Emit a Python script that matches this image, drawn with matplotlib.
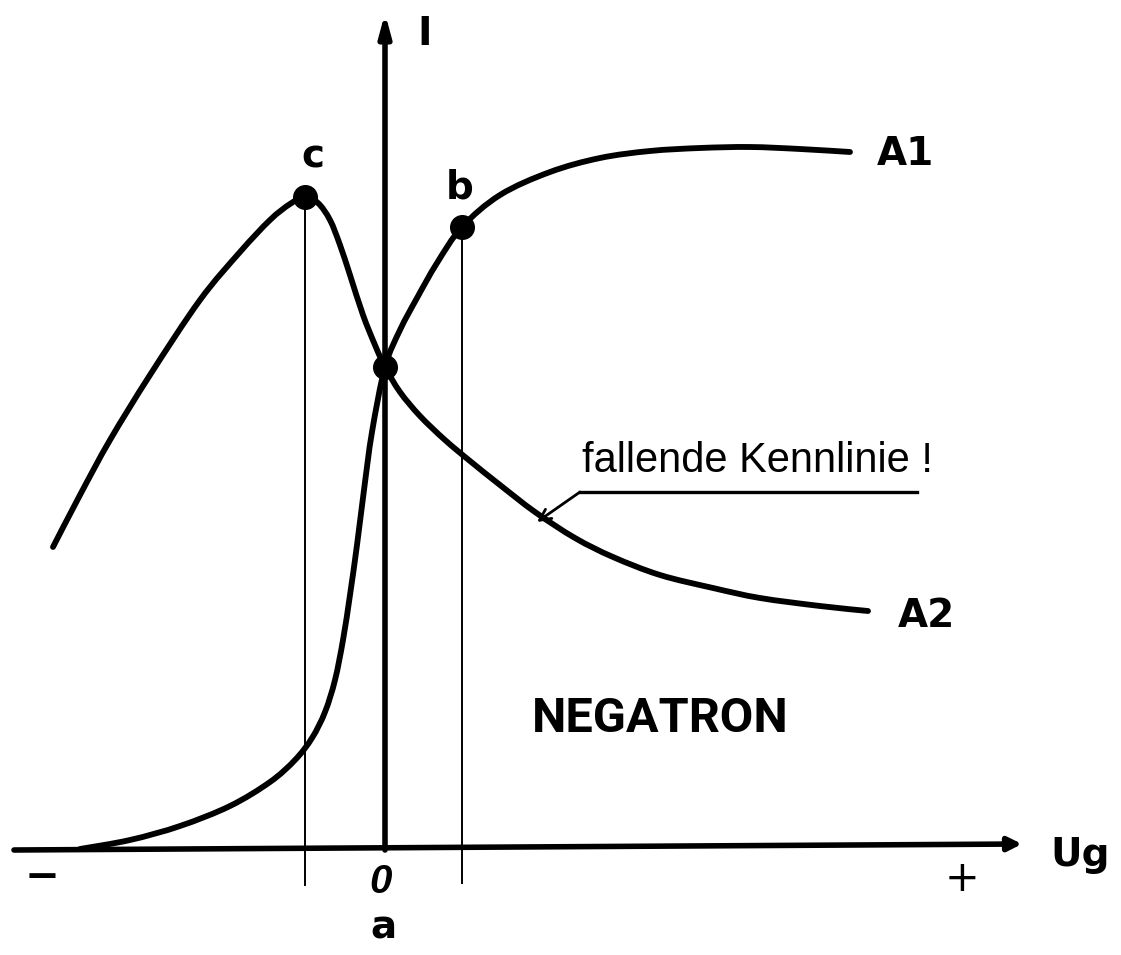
import numpy as np
import matplotlib
matplotlib.use("Agg")
import matplotlib.pyplot as plt
from matplotlib.path import Path
from matplotlib.patches import PathPatch

# curve A1 (rising characteristic), Ug / I in arbitrary units
a1_ug = [-3.05, -2.55, -2.05, -1.55, -1.15, -0.90, -0.73, -0.60, -0.50, -0.42, -0.35,
         -0.28, -0.21, -0.13, 0.00, 0.15, 0.32, 0.52, 0.77, 1.15, 1.65, 2.15, 2.65,
         3.15, 3.65, 4.15, 4.65]
a1_i = [0.01, 0.10, 0.24, 0.44, 0.68, 0.90, 1.12, 1.38, 1.70, 2.10, 2.55,
        3.05, 3.60, 4.18, 4.83, 5.20, 5.52, 5.87, 6.23, 6.55, 6.78, 6.92, 6.99,
        7.02, 7.03, 7.01, 6.98]

# curve A2 (peak at c, then falling characteristic)
a2_ug = [-3.32, -3.05, -2.75, -2.35, -1.85, -1.45, -1.15, -0.95, -0.80, -0.67, -0.55,
         -0.45, -0.35, -0.22, -0.10, 0.00, 0.15, 0.35, 0.60, 0.85, 1.15, 1.50, 1.90,
         2.28, 2.75, 3.28, 3.75, 4.35, 4.83]
a2_i = [3.03, 3.55, 4.10, 4.75, 5.50, 5.98, 6.30, 6.46, 6.53, 6.47, 6.30,
        6.05, 5.75, 5.35, 5.05, 4.83, 4.58, 4.34, 4.10, 3.89, 3.65, 3.38, 3.12,
        2.93, 2.75, 2.62, 2.52, 2.44, 2.39]

# marked points a (crossing), b, c
pt_names = ["a", "b", "c"]
pt_ug = [0.00, 0.77, -0.80]
pt_i = [4.83, 6.23, 6.53]


def smooth_path(xs, ys):
    # bezier path passing through every read point (catmull-rom tangents)
    p = np.column_stack([xs, ys])
    verts = [p[0]]
    codes = [Path.MOVETO]
    n = len(p)
    for k in range(n - 1):
        p0 = p[k - 1] if k > 0 else p[k]
        p3 = p[k + 2] if k + 2 < n else p[k + 1]
        c1 = p[k] + (p[k + 1] - p0) / 6.0
        c2 = p[k + 1] - (p3 - p[k]) / 6.0
        verts += [c1, c2, p[k + 1]]
        codes += [Path.CURVE4] * 3
    return Path(verts, codes)


fig = plt.figure(figsize=(11.21, 9.55), dpi=100)
ax = fig.add_axes([0, 0, 1, 1])
ax.set_xlim(-3.85, 7.36)
ax.set_ylim(-1.05, 8.50)
ax.axis("off")

# axes with arrows
ax.annotate("", xy=(6.37, 0.06), xytext=(-3.71, 0.0),
            arrowprops=dict(arrowstyle="-|>,head_length=0.8,head_width=0.4",
                            lw=4.0, color="black", shrinkA=0, shrinkB=0))
ax.annotate("", xy=(0.0, 8.37), xytext=(0.0, 0.0),
            arrowprops=dict(arrowstyle="-|>,head_length=1.3,head_width=0.35",
                            lw=4.0, color="black", shrinkA=0, shrinkB=0))

# thin verticals through c and b
ax.plot([pt_ug[2], pt_ug[2]], [pt_i[2], -0.35], color="black", lw=1.4)
ax.plot([pt_ug[1], pt_ug[1]], [pt_i[1], -0.33], color="black", lw=1.4)

for xs, ys in [(a1_ug, a1_i), (a2_ug, a2_i)]:
    ax.add_patch(PathPatch(smooth_path(xs, ys), fill=False, edgecolor="black",
                           lw=4.2, joinstyle="round", capstyle="round"))
ax.plot(pt_ug, pt_i, "o", color="black", ms=17)

bold = dict(fontsize=28, fontweight="bold", family="DejaVu Sans", color="black")
ax.text(0.40, 8.05, "I", ha="center", va="baseline", **bold)
ax.text(-0.72, 6.83, "c", ha="center", va="baseline", **bold)
ax.text(0.75, 6.52, "b", ha="center", va="baseline", **bold)
ax.text(5.20, 6.85, "A1", ha="center", va="baseline", **bold)
ax.text(5.41, 2.23, "A2", ha="center", va="baseline", **bold)
ax.text(6.95, -0.16, "Ug", ha="center", va="baseline", **bold)
ax.text(-0.02, -0.88, "a", ha="center", va="baseline", **bold)
ax.text(-0.04, -0.43, "0", ha="center", va="baseline", fontsize=29,
        family="Liberation Sans", style="italic", fontweight="bold")
ax.text(-3.43, -0.27, "\u2212", ha="center", va="center", fontsize=30,
        family="DejaVu Sans", fontweight="bold")
ax.text(5.77, -0.29, "+", ha="center", va="center", fontsize=30, family="DejaVu Sans")

# annotation
ax.text(3.72, 3.78, "fallende Kennlinie !", ha="center", va="baseline",
        fontsize=30, family="Liberation Sans")
ax.plot([1.95, 5.32], [3.58, 3.58], color="black", lw=2.4)
ax.annotate("", xy=(1.52, 3.28), xytext=(1.95, 3.58),
            arrowprops=dict(arrowstyle="->,head_length=0.8,head_width=0.4",
                            lw=2.0, color="black", shrinkA=0, shrinkB=0))

ax.text(2.75, 1.18, "NEGATRON", ha="center", va="baseline", fontsize=35,
        fontweight="bold", family="Roboto")

fig.savefig("out.png", dpi=100, facecolor="white")
